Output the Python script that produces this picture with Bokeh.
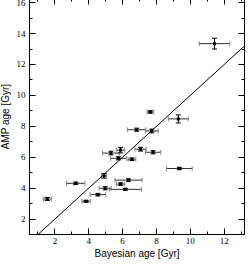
from bokeh.plotting import figure
from bokeh.models import (ColumnDataSource, Whisker, TeeHead, LinearAxis, SingleIntervalTicker,
                          Range1d, Slope, CustomJSTickFormatter)
from bokeh.embed import file_html
from bokeh.resources import INLINE

bayes = [1.55, 3.23, 3.84, 4.54, 4.90, 4.97, 5.31, 5.88, 5.75, 5.88, 6.16, 6.35, 6.55,
         6.83, 7.06, 7.64, 7.72, 7.80, 9.29, 9.35, 11.43]
bayes_err = [0.24, 0.54, 0.24, 0.46, 0.15, 0.36, 0.50, 0.25, 0.47, 0.25, 0.95, 0.80, 0.23,
             0.55, 0.33, 0.20, 0.38, 0.45, 0.59, 0.76, 0.90]
amp = [3.30, 4.31, 3.15, 3.58, 4.80, 3.99, 6.27, 6.46, 5.93, 4.26, 3.92, 4.52, 5.87,
       7.78, 6.52, 8.93, 7.70, 6.32, 8.48, 5.27, 13.35]
amp_err = [0.10, 0.08, 0.06, 0.08, 0.15, 0.10, 0.12, 0.18, 0.10, 0.08, 0.06, 0.08, 0.08,
           0.10, 0.12, 0.08, 0.12, 0.10, 0.26, 0.08, 0.35]

x_range = (0.5, 13.2)
y_range = (1.0, 16.27)

src = ColumnDataSource(dict(
    x=bayes, y=amp,
    xl=[a - b for a, b in zip(bayes, bayes_err)], xu=[a + b for a, b in zip(bayes, bayes_err)],
    yl=[a - b for a, b in zip(amp, amp_err)], yu=[a + b for a, b in zip(amp, amp_err)],
))

p = figure(width=249, height=265, output_backend="svg", toolbar_location=None,
           x_range=Range1d(*x_range), y_range=Range1d(*y_range),
           min_border_left=26, min_border_right=1, min_border_top=2, min_border_bottom=24,
           x_axis_label="Bayesian age [Gyr]", y_axis_label="AMP age [Gyr]")
p.margin = (-4, 0, 0, -4)
p.grid.visible = False
p.outline_line_color = "black"
p.outline_line_width = 1
p.background_fill_color = "white"
p.border_fill_color = "white"

p.xaxis.ticker = SingleIntervalTicker(interval=2, num_minor_ticks=2)
p.yaxis.ticker = SingleIntervalTicker(interval=2, num_minor_ticks=2)

def style(ax, labels=True):
    ax.major_tick_in = 6
    ax.major_tick_out = 0
    ax.minor_tick_in = 3
    ax.minor_tick_out = 0
    ax.major_tick_line_color = "black"
    ax.minor_tick_line_color = "black"
    ax.axis_line_color = "black"
    if labels:
        ax.major_label_text_font = "Liberation Serif"
        ax.major_label_text_font_size = "9px"
        ax.major_label_text_color = "black"
        ax.axis_label_text_font = "Liberation Sans"
        ax.axis_label_text_font_size = "10px"
        ax.axis_label_text_font_style = "normal"
        ax.axis_label_text_color = "black"
    else:
        ax.formatter = CustomJSTickFormatter(code="return ''")
        ax.major_label_standoff = 0

for ax in p.xaxis + p.yaxis:
    style(ax)
p.xaxis.major_label_standoff = 3
p.xaxis.axis_label_standoff = 1
p.yaxis.major_label_standoff = 4
p.yaxis.axis_label_standoff = 3

top = LinearAxis(ticker=SingleIntervalTicker(interval=2, num_minor_ticks=2))
right = LinearAxis(ticker=SingleIntervalTicker(interval=2, num_minor_ticks=2))
style(top, labels=False)
style(right, labels=False)
p.add_layout(top, "above")
p.add_layout(right, "right")

p.add_layout(Slope(gradient=1, y_intercept=0, line_color="black", line_width=1))

p.add_layout(Whisker(source=src, base="y", lower="xl", upper="xu", dimension="width",
                     line_color="#333333", line_width=1,
                     lower_head=TeeHead(size=5, line_color="#888888", line_width=1),
                     upper_head=TeeHead(size=5, line_color="#888888", line_width=1)))
p.add_layout(Whisker(source=src, base="x", lower="yl", upper="yu", dimension="height",
                     line_color="black", line_width=1,
                     lower_head=TeeHead(size=5, line_color="black", line_width=1),
                     upper_head=TeeHead(size=5, line_color="black", line_width=1)))
p.scatter("x", "y", source=src, marker="square", size=3, fill_color="black", line_color=None)

open("out.html", "w").write(file_html(p, INLINE))
